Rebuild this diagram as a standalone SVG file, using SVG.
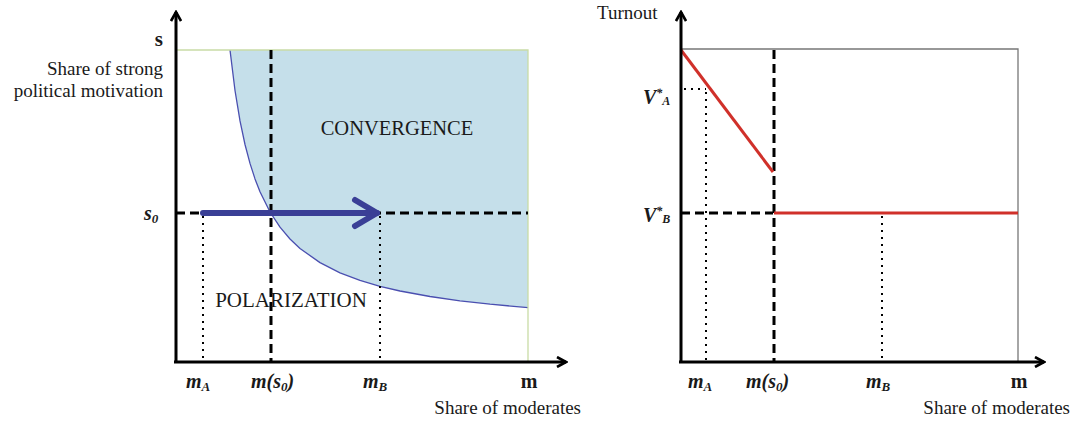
<svg xmlns="http://www.w3.org/2000/svg" width="1073" height="422" viewBox="0 0 1073 422">
<style>
.axis{stroke:#000;stroke-width:3;fill:none}
.dash{stroke:#000;stroke-width:3;stroke-dasharray:9,5;fill:none}
.dot{stroke:#000;stroke-width:2;stroke-dasharray:2,5;fill:none}
.t{font-family:"Liberation Serif",serif;fill:#1a1a1a}
.lbl{font-family:"Liberation Serif",serif;font-size:19px;fill:#1a1a1a}
.mi{font-family:"Liberation Serif",serif;font-size:20px;font-weight:bold;font-style:italic;fill:#1a1a1a}
.red{stroke:#d0302a;stroke-width:3;fill:none}
</style>
<defs>
<marker id="ah" viewBox="0 0 12 12" refX="10" refY="6" markerWidth="12" markerHeight="12" markerUnits="userSpaceOnUse" orient="auto">
<path d="M1,1 L10,6 L1,11" fill="none" stroke="#000" stroke-width="2.6"/>
</marker>
</defs>
<g id="left-chart">
<path d="M230,50 L235,90.5 L240,120.9 L245,144.5 L250,163.4 L255,178.9 L260,191.8 L270,212 L280,227.2 L290,239 L300,248.5 L320,262.6 L340,272.8 L360,280.3 L380,286.3 L400,291 L430,296.5 L460,300.8 L490,304.2 L528,307.6 L528,50 Z" fill="#c5dfea"/>
<path d="M230,50 L235,90.5 L240,120.9 L245,144.5 L250,163.4 L255,178.9 L260,191.8 L270,212 L280,227.2 L290,239 L300,248.5 L320,262.6 L340,272.8 L360,280.3 L380,286.3 L400,291 L430,296.5 L460,300.8 L490,304.2 L528,307.6" fill="none" stroke="#4a4fb0" stroke-width="1.3" stroke-linejoin="round"/>
<path d="M176,50 L528,50 L528,362" fill="none" stroke="#c9dca6" stroke-width="1.3"/>
<line class="dash" x1="271" y1="50" x2="271" y2="362"/>
<line class="dash" x1="176" y1="213" x2="528" y2="213"/>
<line class="dot" x1="203" y1="216" x2="203" y2="362"/>
<line class="dot" x1="380" y1="216" x2="380" y2="362"/>
<g id="shift-arrow">
<line x1="203" y1="213" x2="377" y2="213" stroke="#3a3f96" stroke-width="6" stroke-linecap="round"/>
<path d="M355,200 L377,213 L355,226" fill="none" stroke="#3a3f96" stroke-width="6" stroke-linecap="round" stroke-linejoin="round"/>
</g>
<line class="axis" x1="176" y1="363" x2="176" y2="12" marker-end="url(#ah)"/>
<line class="axis" x1="174" y1="362" x2="566" y2="362" marker-end="url(#ah)"/>
<text class="t" x="163" y="46" font-size="21" font-weight="bold" text-anchor="end">s</text>
<text class="lbl" x="163" y="75" text-anchor="end">Share of strong</text>
<text class="lbl" x="163" y="97" text-anchor="end">political motivation</text>
<text class="mi" x="144" y="220">s<tspan font-size="13" dy="3">0</tspan></text>
<text class="t" x="397" y="135" font-size="20.5" text-anchor="middle">CONVERGENCE</text>
<text class="t" x="291" y="307" font-size="21" text-anchor="middle">POLARIZATION</text>
<text class="mi" x="186" y="388">m<tspan font-size="13" dy="3">A</tspan></text>
<text class="mi" x="251" y="388">m(s<tspan font-size="13" dy="3">0</tspan><tspan dy="-3">)</tspan></text>
<text class="mi" x="363" y="388">m<tspan font-size="13" dy="3">B</tspan></text>
<text class="t" x="529" y="388" font-size="20" font-weight="bold" text-anchor="middle">m</text>
<text class="lbl" x="581" y="414" text-anchor="end">Share of moderates</text>
</g>
<g id="right-chart">
<path d="M681,49 L1018,49 L1018,362" fill="none" stroke="#777" stroke-width="1.3"/>
<line class="dash" x1="774" y1="50" x2="774" y2="362"/>
<line class="dash" x1="681" y1="213" x2="773" y2="213"/>
<line class="dot" x1="684" y1="89" x2="706" y2="89"/>
<line class="dot" x1="706" y1="92" x2="706" y2="362"/>
<line class="dot" x1="882" y1="216" x2="882" y2="362"/>
<line class="red" x1="681" y1="50" x2="773" y2="172"/>
<line class="red" x1="774" y1="213" x2="1018" y2="213"/>
<line class="axis" x1="681" y1="363" x2="681" y2="12" marker-end="url(#ah)"/>
<line class="axis" x1="679" y1="362" x2="1044" y2="362" marker-end="url(#ah)"/>
<text class="lbl" x="597" y="19">Turnout</text>
<text class="mi" x="643" y="104">V<tspan font-size="12" dy="-7">*</tspan><tspan font-size="12" dy="8">A</tspan></text>
<text class="mi" x="643" y="222">V<tspan font-size="12" dy="-7">*</tspan><tspan font-size="12" dy="8">B</tspan></text>
<text class="mi" x="688" y="388">m<tspan font-size="13" dy="3">A</tspan></text>
<text class="mi" x="746" y="388">m(s<tspan font-size="13" dy="3">0</tspan><tspan dy="-3">)</tspan></text>
<text class="mi" x="866" y="388">m<tspan font-size="13" dy="3">B</tspan></text>
<text class="t" x="1019" y="388" font-size="20" font-weight="bold" text-anchor="middle">m</text>
<text class="lbl" x="1070" y="414" text-anchor="end">Share of moderates</text>
</g>
</svg>
